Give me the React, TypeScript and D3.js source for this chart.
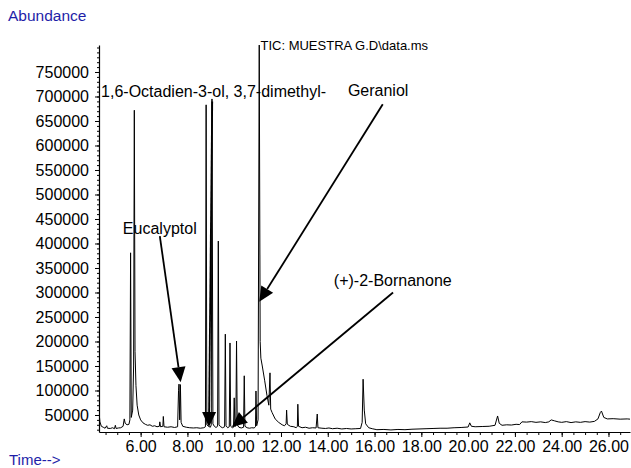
import React, { Component } from 'react';
import * as d3 from 'd3';

// TIC trace: [retention time (min), abundance]
const tic: [number, number][] = [
  [4.22, 56000], [4.26, 36000], [4.32, 27000], [4.40, 25000], [4.48, 23000],
  [4.55, 28000], [4.58, 23000], [4.70, 22500], [4.80, 24000], [4.88, 22000],
  [4.92, 29000], [4.95, 22500], [5.05, 23500], [5.15, 24000], [5.25, 27000],
  [5.30, 42000], [5.34, 33000], [5.42, 30000], [5.50, 31000], [5.54, 40000],
  [5.57, 381000], [5.60, 45000], [5.66, 60000], [5.70, 150000], [5.73, 672000],
  [5.76, 180000], [5.80, 110000], [5.85, 70000], [5.92, 50000], [6.00, 40000],
  [6.10, 34000], [6.20, 31000], [6.30, 29000], [6.40, 30000], [6.50, 27000],
  [6.60, 28000], [6.70, 26000], [6.80, 27000], [6.82, 36000], [6.85, 26000],
  [6.95, 27000], [6.97, 47000], [7.00, 26000], [7.15, 25000], [7.30, 26000],
  [7.45, 24500], [7.58, 26000], [7.62, 100000], [7.64, 113000], [7.67, 40000],
  [7.70, 112000], [7.73, 35000], [7.80, 27000], [7.95, 25000], [8.10, 24000],
  [8.25, 23500], [8.40, 24000], [8.55, 23000], [8.70, 24000], [8.77, 26000],
  [8.80, 683000], [8.83, 30000], [8.90, 27000], [8.98, 25000], [9.02, 30000],
  [9.05, 695000], [9.09, 32000], [9.15, 27000], [9.22, 24500], [9.29, 27000],
  [9.32, 405000], [9.35, 30000], [9.42, 26000], [9.50, 24000], [9.59, 26000],
  [9.62, 215000], [9.65, 28000], [9.72, 24000], [9.79, 26000], [9.82, 197000],
  [9.85, 27000], [9.92, 24000], [9.97, 25000], [10.00, 85000], [10.03, 26000],
  [10.07, 30000], [10.10, 201000], [10.13, 30000], [10.20, 25000], [10.30, 23500],
  [10.40, 25000], [10.43, 130000], [10.46, 27000], [10.55, 24000], [10.65, 23000],
  [10.75, 24000], [10.85, 23500], [10.91, 26000], [10.93, 99000], [10.96, 28000],
  [11.02, 40000], [11.07, 805000], [11.11, 200000], [11.14, 166000], [11.20, 150000],
  [11.30, 121000], [11.40, 90000], [11.48, 70000], [11.53, 136000], [11.56, 62000],
  [11.62, 55000], [11.75, 42000], [11.90, 35000], [12.05, 30000], [12.15, 28000],
  [12.22, 32000], [12.24, 60000], [12.27, 31000], [12.40, 27000], [12.55, 26000],
  [12.65, 24000], [12.70, 27000], [12.72, 72000], [12.75, 27000], [12.90, 24000],
  [13.05, 25000], [13.20, 23000], [13.35, 24000], [13.50, 23500], [13.55, 52000],
  [13.58, 24000], [13.75, 23000], [13.90, 22500], [14.05, 23500], [14.20, 22000],
  [14.40, 23000], [14.60, 21500], [14.80, 22500], [15.00, 21500], [15.20, 22000],
  [15.40, 22500], [15.47, 35000], [15.51, 123000], [15.56, 60000], [15.62, 32000],
  [15.75, 24000], [15.90, 22000], [16.10, 20000], [16.40, 20500], [16.70, 19500],
  [17.00, 20500], [17.30, 20000], [17.60, 21000], [17.90, 21500], [18.20, 22000],
  [18.50, 22500], [18.80, 23000], [19.10, 23000], [19.40, 24000], [19.70, 24500],
  [20.00, 25500], [20.07, 34000], [20.14, 27000], [20.30, 26000], [20.60, 26500],
  [20.90, 27000], [21.15, 29000], [21.26, 48000], [21.33, 33000], [21.45, 29000],
  [21.65, 30000], [21.85, 29500], [22.05, 31000], [22.20, 30500], [22.30, 36000],
  [22.50, 35500], [22.70, 36500], [22.90, 35000], [23.10, 36000], [23.30, 34500],
  [23.45, 36000], [23.55, 40000], [23.70, 38000], [23.85, 36000], [24.00, 35000],
  [24.20, 36500], [24.40, 34500], [24.60, 36000], [24.80, 35000], [25.00, 36500],
  [25.20, 35500], [25.40, 37000], [25.55, 42000], [25.65, 55000], [25.70, 58000],
  [25.80, 45000], [25.95, 42000], [26.20, 42500], [26.50, 41500], [26.80, 42000],
  [26.92, 41500],
];

const xTickLabels = [6, 8, 10, 12, 14, 16, 18, 20, 22, 24, 26];
const yTickLabels = [50000, 100000, 150000, 200000, 250000, 300000, 350000, 400000,
  450000, 500000, 550000, 600000, 650000, 700000, 750000];

// compound labels: text, anchor [time, abundance], arrow from -> to
const compoundNames = ['1,6-Octadien-3-ol, 3,7-dimethyl-', 'Geraniol', 'Eucalyptol', '(+)-2-Bornanone'];
const labelAt: [number, number][] = [[4.31, 699000], [14.86, 701000], [5.24, 419000], [14.26, 313000]];
const arrowFrom: [number, number][] = [[9.06, 690000], [16.35, 684000], [6.82, 415000], [16.79, 300000]];
const arrowTo: [number, number][] = [[8.92, 25500], [11.07, 281000], [7.71, 117000], [9.90, 25500]];

const ticTitle = 'TIC: MUESTRA G.D\\data.ms';

export default class App extends Component {
  svgRef = React.createRef<SVGSVGElement>();

  componentDidMount() {
    document.body.style.margin = '0';
    this.renderGraph();
  }

  renderGraph() {
    const svg = d3.select(this.svgRef.current);
    svg.selectAll('*').remove();
    const font = 'Liberation Sans, Arial, sans-serif';

    const x = d3.scaleLinear().domain([4.22, 26.92]).range([99, 630]);
    const y = d3.scaleLinear().domain([15300, 805100]).range([432, 45]);

    svg.append('defs').append('clipPath').attr('id', 'plot')
      .append('rect').attr('x', 99).attr('y', 44).attr('width', 532).attr('height', 389);

    // minor ticks
    svg.append('g')
      .attr('transform', 'translate(99,0)')
      .call(d3.axisLeft(y).tickValues(d3.range(20000, 805000, 10000)).tickSize(2).tickSizeOuter(0).tickFormat(() => ''))
      .call(g => g.select('.domain').remove());
    svg.append('g')
      .attr('transform', 'translate(0,432)')
      .call(d3.axisBottom(x).tickValues(d3.range(4.5, 26.92, 0.5)).tickSize(3).tickSizeOuter(0).tickFormat(() => ''))
      .call(g => g.select('.domain').remove());

    const yAxis = svg.append('g')
      .attr('transform', 'translate(99,0)')
      .call(d3.axisLeft(y).tickValues(yTickLabels).tickSize(4).tickPadding(6).tickSizeOuter(0).tickFormat(d3.format('d')));
    yAxis.selectAll('text').attr('font-size', 16).attr('font-family', font).attr('fill', '#000');

    const xAxis = svg.append('g')
      .attr('transform', 'translate(0,432)')
      .call(d3.axisBottom(x).tickValues(xTickLabels).tickSize(5).tickPadding(4).tickSizeOuter(0).tickFormat(d3.format('.2f')));
    xAxis.selectAll('text').attr('font-size', 16).attr('font-family', font).attr('fill', '#000');

    svg.selectAll('.domain').attr('stroke', '#000').attr('stroke-width', 1.2);

    const line = d3.line<[number, number]>().x(d => x(d[0])).y(d => y(d[1]));
    svg.append('path')
      .datum(tic)
      .attr('clip-path', 'url(#plot)')
      .attr('fill', 'none')
      .attr('stroke', '#000')
      .attr('stroke-width', 1)
      .attr('d', line);

    svg.append('text')
      .attr('x', x(11.08) + 1).attr('y', 50)
      .attr('font-family', font).attr('font-size', 13)
      .text(ticTitle);

    // arrows
    compoundNames.forEach((name, i) => {
      const x0 = x(arrowFrom[i][0]), y0 = y(arrowFrom[i][1]);
      const x1 = x(arrowTo[i][0]), y1 = y(arrowTo[i][1]);
      const len = Math.hypot(x1 - x0, y1 - y0);
      const ux = (x1 - x0) / len, uy = (y1 - y0) / len;
      const hl = 15, hw = 7;
      const bx = x1 - ux * hl, by = y1 - uy * hl;
      svg.append('line')
        .attr('x1', x0).attr('y1', y0).attr('x2', bx).attr('y2', by)
        .attr('stroke', '#000').attr('stroke-width', 1.8);
      svg.append('polygon')
        .attr('points', [[x1, y1], [bx - uy * hw, by + ux * hw], [bx + uy * hw, by - ux * hw]].map(p => p.join(',')).join(' '))
        .attr('fill', '#000');
      svg.append('text')
        .attr('x', x(labelAt[i][0])).attr('y', y(labelAt[i][1]))
        .attr('font-family', font).attr('font-size', 16)
        .text(name);
    });

    svg.append('text').attr('x', 8).attr('y', 21)
      .attr('font-family', font).attr('font-size', 15.5).attr('fill', '#1e1ea8')
      .text('Abundance');
    svg.append('text').attr('x', 9).attr('y', 465)
      .attr('font-family', font).attr('font-size', 15).attr('fill', '#1e1ea8')
      .text('Time-->');
  }

  render() {
    return <svg ref={this.svgRef} width={631} height={468} style={{ display: 'block' }}></svg>;
  }
}
